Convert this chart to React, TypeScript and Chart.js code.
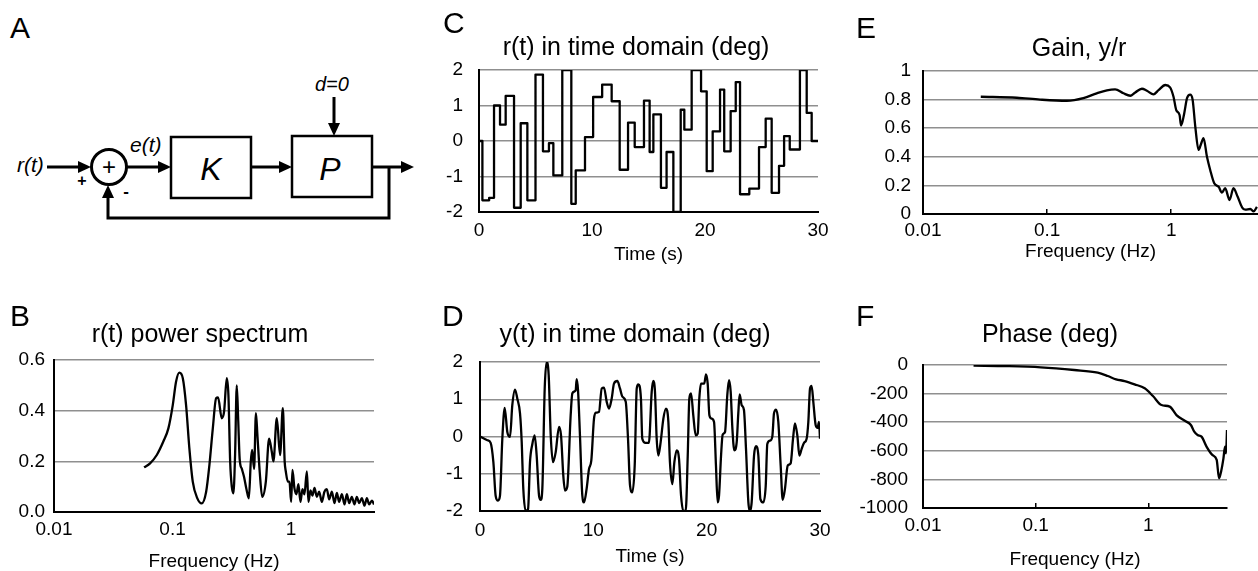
import React, { useEffect, useRef } from 'react';
import { Chart, registerables } from 'chart.js';

Chart.register(...registerables);

const FONT = '"Liberation Sans", Arial, Helvetica, sans-serif';
Chart.defaults.font.family = FONT;
Chart.defaults.color = '#000';

// ---------- Panel B: r(t) power spectrum ----------
const bFreq = [0.0575, 0.0646, 0.0736, 0.0836, 0.0922, 0.1004, 0.107, 0.114, 0.122, 0.13, 0.1386, 0.148, 0.1618, 0.176, 0.192, 0.2046, 0.2185, 0.233, 0.242, 0.26, 0.272, 0.2866, 0.296, 0.306, 0.316, 0.326, 0.3367, 0.348, 0.358, 0.368, 0.384, 0.4, 0.42, 0.44, 0.457, 0.469, 0.487, 0.505, 0.52, 0.545, 0.57, 0.612, 0.652, 0.687, 0.709, 0.757, 0.807, 0.851, 0.882, 0.902, 0.938, 0.968, 1.0, 1.026, 1.066, 1.108, 1.152, 1.198, 1.246, 1.295, 1.357, 1.4, 1.455, 1.513, 1.574, 1.648, 1.723, 1.816, 1.909, 2.0, 2.093, 2.206, 2.32, 2.43, 2.54, 2.68, 2.82, 2.95, 3.09, 3.25, 3.42, 3.58, 3.75, 3.95, 4.16, 4.35, 4.55, 4.8, 5.0];
const bPower = [0.176, 0.192, 0.225, 0.278, 0.33, 0.422, 0.514, 0.55, 0.528, 0.422, 0.251, 0.12, 0.054, 0.034, 0.08, 0.186, 0.33, 0.449, 0.452, 0.37, 0.396, 0.528, 0.46, 0.2, 0.1, 0.074, 0.225, 0.5, 0.36, 0.21, 0.17, 0.14, 0.09, 0.054, 0.2, 0.245, 0.17, 0.39, 0.3, 0.15, 0.06, 0.12, 0.29, 0.238, 0.2, 0.37, 0.225, 0.41, 0.2, 0.16, 0.12, 0.12, 0.04, 0.166, 0.094, 0.07, 0.11, 0.04, 0.09, 0.07, 0.16, 0.04, 0.085, 0.065, 0.095, 0.06, 0.08, 0.04, 0.08, 0.09, 0.05, 0.08, 0.035, 0.075, 0.04, 0.07, 0.03, 0.07, 0.035, 0.06, 0.03, 0.06, 0.035, 0.055, 0.025, 0.055, 0.03, 0.045, 0.03];

// ---------- Panel C: r(t) in time domain (step signal) ----------
const rTime = [0, 0.3, 0.9, 1.33, 1.86, 2.36, 3.1, 3.69, 4.28, 5.0, 5.66, 6.19, 6.58, 7.37, 8.17, 8.56, 9.38, 10.1, 10.9, 11.74, 12.45, 13.19, 13.78, 14.6, 15.1, 15.43, 16.1, 16.6, 17.2, 17.85, 18.17, 18.82, 19.65, 20.15, 20.68, 21.33, 21.7, 22.27, 22.72, 23.1, 23.92, 24.78, 25.37, 25.9, 26.55, 27.0, 27.5, 28.4, 29.0, 29.44, 30];
const rValue = [0, -1.67, -1.6, 1.0, 0.46, 1.27, -1.88, 0.5, -1.67, 1.87, -0.29, -0.06, -0.97, 2.0, -1.77, -0.83, 0.11, 1.24, 1.59, 1.12, -0.81, 0.52, -0.17, 1.14, -0.31, 0.75, -1.32, -0.31, -2.0, 0.88, 0.32, 2.0, 1.4, -0.85, 0.27, 1.45, -0.29, 0.84, 1.66, -1.5, -1.34, -0.17, 0.63, -1.46, -0.7, 0.14, -0.24, 2.0, 0.79, 0.0, 0.0];

// ---------- Panel D: y(t) in time domain ----------
const yTime = [0, 0.65, 0.94, 1.18, 1.38, 1.59, 1.76, 1.97, 2.18, 2.41, 2.65, 2.85, 3.09, 3.29, 3.53, 3.68, 3.82, 4.03, 4.24, 4.41, 4.62, 4.82, 5.0, 5.21, 5.36, 5.5, 5.71, 5.88, 6.06, 6.24, 6.44, 6.68, 6.97, 7.15, 7.35, 7.5, 7.7, 8.0, 8.15, 8.44, 8.53, 8.65, 8.82, 9.03, 9.18, 9.41, 9.62, 9.82, 10.06, 10.24, 10.5, 10.74, 10.94, 11.18, 11.38, 11.62, 11.82, 12.12, 12.35, 12.56, 12.86, 13.06, 13.24, 13.44, 13.65, 13.83, 13.97, 14.2, 14.32, 14.6, 14.9, 15.15, 15.29, 15.44, 15.59, 15.74, 15.94, 16.18, 16.41, 16.62, 16.76, 16.97, 17.15, 17.35, 17.56, 17.74, 17.94, 18.15, 18.33, 18.47, 18.62, 18.82, 19.03, 19.21, 19.35, 19.5, 19.79, 19.94, 20.09, 20.24, 20.44, 20.65, 20.82, 20.97, 21.09, 21.27, 21.41, 21.62, 21.82, 21.97, 22.12, 22.27, 22.44, 22.65, 22.79, 22.91, 23.09, 23.29, 23.47, 23.68, 23.82, 23.97, 24.18, 24.35, 24.56, 24.74, 25.0, 25.21, 25.35, 25.59, 25.79, 25.94, 26.12, 26.32, 26.53, 26.71, 26.91, 27.15, 27.41, 27.62, 27.79, 28.0, 28.18, 28.38, 28.59, 28.82, 28.97, 29.12, 29.26, 29.41, 29.62, 29.79, 29.91, 30.0];
const yValue = [0, -0.1, -0.17, -0.69, -1.59, -1.72, -1.6, -0.06, 0.77, 0.12, -0.01, 0.84, 1.26, 1.02, 0.62, -0.15, -1.4, -2.0, -1.95, -0.69, -0.2, 0.03, -0.51, -1.59, -1.7, -1.4, 1.29, 2.0, 1.65, 0.03, -0.69, -0.42, 0.26, 0.03, -1.05, -1.45, -1.35, 0.57, 1.16, 1.24, 1.54, 1.24, 0.03, -1.59, -1.77, -1.4, -0.87, -0.65, 0.48, 0.64, 0.66, 1.29, 1.31, 0.93, 0.75, 1.02, 1.42, 1.49, 1.29, 1.07, 0.93, -0.06, -1.32, -1.5, -0.78, 1.29, 1.4, 1.02, -0.06, -0.17, -0.17, 1.2, 1.49, 1.2, -0.06, -0.51, -0.15, 0.48, 0.75, 0.4, -0.69, -1.28, -0.69, -0.37, -0.6, -1.59, -2.0, -2.0, -0.51, 1.02, 1.16, 0.57, 0.03, 0.08, 1.02, 1.42, 1.42, 1.67, 1.42, 0.57, 0.48, 0.39, -0.78, -1.77, -1.59, -0.51, 0.05, 0.12, 1.11, 1.51, 1.2, 0.21, -0.37, -0.15, 0.62, 1.13, 0.84, 0.71, -0.33, -1.77, -2.0, -1.77, -0.51, -0.26, -0.51, -1.68, -1.77, -1.33, -0.2, -0.11, -0.01, 0.62, 0.72, 0.4, -0.78, -1.7, -1.4, -0.78, -0.72, -0.06, 0.35, 0.03, -0.51, -0.33, -0.17, -0.06, 0.39, 1.29, 1.36, 0.93, 0.3, 0.23, 0.39, -0.06];

// ---------- Panel E: Gain, y/r ----------
const gainFreq = [0.0292, 0.057, 0.0878, 0.144, 0.196, 0.251, 0.303, 0.353, 0.412, 0.467, 0.513, 0.58, 0.637, 0.72, 0.79, 0.895, 0.978, 1.043, 1.097, 1.167, 1.2, 1.27, 1.34, 1.42, 1.486, 1.563, 1.66, 1.738, 1.82, 1.94, 2.06, 2.22, 2.41, 2.56, 2.72, 2.95, 3.17, 3.43, 3.72, 3.95, 4.34, 4.61, 4.9];
const gainValue = [0.82, 0.813, 0.8, 0.792, 0.81, 0.844, 0.865, 0.872, 0.844, 0.827, 0.85, 0.876, 0.862, 0.837, 0.866, 0.902, 0.886, 0.82, 0.727, 0.692, 0.618, 0.7, 0.81, 0.835, 0.8, 0.61, 0.448, 0.49, 0.53, 0.4, 0.308, 0.215, 0.19, 0.15, 0.18, 0.098, 0.18, 0.12, 0.047, 0.03, 0.035, 0.018, 0.05];

// ---------- Panel F: Phase (deg) ----------
const phaseFreq = [0.0281, 0.0559, 0.111, 0.22, 0.356, 0.437, 0.518, 0.616, 0.756, 0.93, 1.1, 1.31, 1.55, 1.78, 2.11, 2.39, 2.56, 2.74, 2.97, 3.29, 3.7, 4.05, 4.25, 4.43, 4.65, 4.8, 4.9, 5.0];
const phaseValue = [-5, -8, -16, -35, -54, -77, -100, -112, -135, -163, -217, -280, -291, -350, -390, -420, -466, -490, -501, -571, -629, -664, -793, -746, -653, -571, -618, -455];

// ---------- Axis ticks ----------
const logTicks = [0.01, 0.1, 1];
const timeTicks = [0, 10, 20, 30];

type Panel = {
  left: number; top: number; width: number; height: number;
  padT: number; padR: number; yW: number; xH: number;
  xPad: number; yPad: number;
  title: string; titleX: number; titleY: number; xTitle: string;
  log: boolean; xMin: number; xMax: number;
  yMin: number; yMax: number; yStep: number;
  yFmt: (v: number) => string;
  xs: number[]; ys: number[];
  stepped?: boolean; innerTicks?: boolean;
};

const panels: Panel[] = [
  {
    left: 0, top: 330, width: 398, height: 243, padT: 30, padR: 24, yW: 54, xH: 61,
    xPad: 6, yPad: 9, title: 'r(t) power spectrum', titleX: 200, titleY: 333, xTitle: 'Frequency (Hz)',
    log: true, xMin: 0.01, xMax: 5, yMin: 0, yMax: 0.6, yStep: 0.2,
    yFmt: (v) => v.toFixed(1), xs: bFreq, ys: bPower,
  },
  {
    left: 429, top: 40, width: 413, height: 226, padT: 30, padR: 24, yW: 50, xH: 54,
    xPad: 7, yPad: 16, title: 'r(t) in time domain (deg)', titleX: 636, titleY: 46, xTitle: 'Time (s)',
    log: false, xMin: 0, xMax: 30, yMin: -2, yMax: 2, yStep: 1,
    yFmt: (v) => String(Math.round(v)), xs: rTime, ys: rValue, stepped: true,
  },
  {
    left: 430, top: 332, width: 414, height: 236, padT: 30, padR: 24, yW: 50, xH: 57,
    xPad: 8, yPad: 17, title: 'y(t) in time domain (deg)', titleX: 635, titleY: 333, xTitle: 'Time (s)',
    log: false, xMin: 0, xMax: 30, yMin: -2, yMax: 2, yStep: 1,
    yFmt: (v) => String(Math.round(v)), xs: yTime, ys: yValue,
  },
  {
    left: 863, top: 41, width: 419, height: 222, padT: 30, padR: 24, yW: 60, xH: 49,
    xPad: 10, yPad: 12, title: 'Gain, y/r', titleX: 1079, titleY: 47, xTitle: 'Frequency (Hz)',
    log: true, xMin: 0.01, xMax: 5, yMin: 0, yMax: 1, yStep: 0.2,
    yFmt: (v) => String(Math.round(v * 10) / 10), xs: gainFreq, ys: gainValue, innerTicks: true,
  },
  {
    left: 853, top: 335, width: 398, height: 236, padT: 30, padR: 24, yW: 70, xH: 63,
    xPad: 11, yPad: 15, title: 'Phase (deg)', titleX: 1050, titleY: 333, xTitle: 'Frequency (Hz)',
    log: true, xMin: 0.01, xMax: 5, yMin: -1000, yMax: 0, yStep: 200,
    yFmt: (v) => String(Math.round(v)), xs: phaseFreq, ys: phaseValue, innerTicks: true,
  },
];

function makeConfig(p: Panel): any {
  const tickFont = { family: FONT, size: 19 };
  return {
    type: 'line',
    data: {
      datasets: [
        {
          data: p.xs.map((x, i) => ({ x, y: p.ys[i] })),
          borderColor: '#000',
          borderWidth: 2.3,
          pointRadius: 0,
          fill: false,
          stepped: p.stepped ? 'before' : false,
          cubicInterpolationMode: p.stepped ? 'default' : 'monotone',
          borderJoinStyle: 'round',
        },
      ],
    },
    options: {
      responsive: false,
      animation: false,
      events: [],
      layout: { padding: { left: 0, right: p.padR, top: p.padT, bottom: 0 } },
      plugins: {
        legend: { display: false },
        tooltip: { enabled: false },
        title: { display: false },
      },
      scales: {
        x: {
          type: p.log ? 'logarithmic' : 'linear',
          min: p.xMin,
          max: p.xMax,
          afterBuildTicks: (s: any) => {
            s.ticks = (p.log ? logTicks : timeTicks).map((v) => ({ value: v }));
          },
          afterFit: (s: any) => {
            s.height = p.xH;
          },
          grid: p.innerTicks
            ? { display: true, drawOnChartArea: false, drawTicks: true, tickLength: -5, color: '#000', lineWidth: 1.5 }
            : { display: false, drawTicks: false, tickLength: 0 },
          border: { display: true, color: '#000', width: 2 },
          ticks: {
            color: '#000',
            font: tickFont,
            padding: p.xPad,
            maxRotation: 0,
            autoSkip: false,
            callback: (v: any) => String(v),
          },
          title: {
            display: true,
            text: p.xTitle,
            color: '#000',
            font: tickFont,
            padding: { top: 0, bottom: 0 },
          },
        },
        y: {
          type: 'linear',
          min: p.yMin,
          max: p.yMax,
          afterFit: (s: any) => {
            s.width = p.yW;
          },
          grid: {
            display: true,
            drawTicks: false,
            tickLength: 0,
            lineWidth: 1.5,
            color: (ctx: any) =>
              ctx.tick && Math.abs(ctx.tick.value - p.yMin) < 1e-9 ? 'rgba(0,0,0,0)' : '#8f8f8f',
          },
          border: { display: true, color: '#000', width: 2 },
          ticks: {
            color: '#000',
            font: tickFont,
            padding: p.yPad,
            stepSize: p.yStep,
            autoSkip: false,
            callback: (v: any) => p.yFmt(Number(v)),
          },
        },
      },
    },
  };
}

function ChartPanel({ p }: { p: Panel }) {
  const ref = useRef<HTMLCanvasElement | null>(null);
  useEffect(() => {
    if (!ref.current) return;
    const chart = new Chart(ref.current, makeConfig(p));
    return () => chart.destroy();
  }, []);
  return (
    <>
      <canvas
        ref={ref}
        width={p.width}
        height={p.height}
        style={{ position: 'absolute', left: p.left, top: p.top, width: p.width, height: p.height }}
      />
      <div
        style={{
          position: 'absolute',
          left: p.titleX - 200,
          top: p.titleY - 15,
          width: 400,
          textAlign: 'center',
          fontSize: 25,
          lineHeight: '30px',
          fontFamily: FONT,
          color: '#000',
          whiteSpace: 'nowrap',
        }}
      >
        {p.title}
      </div>
    </>
  );
}

function Diagram() {
  const sw = 3;
  const ital = { fontFamily: FONT, fontStyle: 'italic' as const };
  return (
    <svg width={430} height={260} style={{ position: 'absolute', left: 0, top: 0 }}>
      <text x={17} y={172} fontSize={21} {...ital}>r(t)</text>
      <line x1={47} y1={167} x2={80} y2={167} stroke="#000" strokeWidth={sw} />
      <polygon points="78,161 91,167 78,173" fill="#000" />
      <circle cx={109} cy={167} r={17.5} fill="#fff" stroke="#000" strokeWidth={sw} />
      <text x={109} y={175} fontSize={24} fontFamily={FONT} textAnchor="middle">+</text>
      <text x={82} y={186} fontSize={16} fontFamily={FONT} fontWeight="bold" textAnchor="middle">+</text>
      <text x={126} y={197} fontSize={17} fontFamily={FONT} fontWeight="bold" textAnchor="middle">-</text>
      <text x={130} y={152} fontSize={21} {...ital}>e(t)</text>
      <line x1={127} y1={167} x2={160} y2={167} stroke="#000" strokeWidth={sw} />
      <polygon points="158,161 171,167 158,173" fill="#000" />
      <rect x={171} y={137} width={80} height={61} fill="#fff" stroke="#000" strokeWidth={2.5} />
      <text x={211} y={180} fontSize={32} textAnchor="middle" {...ital}>K</text>
      <line x1={251} y1={167} x2={281} y2={167} stroke="#000" strokeWidth={sw} />
      <polygon points="279,161 292,167 279,173" fill="#000" />
      <rect x={292} y={136} width={80} height={61} fill="#fff" stroke="#000" strokeWidth={2.5} />
      <text x={330} y={180} fontSize={32} textAnchor="middle" {...ital}>P</text>
      <text x={315} y={91} fontSize={20} {...ital}>d=0</text>
      <line x1={334} y1={97} x2={334} y2={125} stroke="#000" strokeWidth={sw} />
      <polygon points="328,123 334,136 340,123" fill="#000" />
      <line x1={372} y1={167} x2={402} y2={167} stroke="#000" strokeWidth={sw} />
      <polygon points="401,161 414,167 401,173" fill="#000" />
      <polyline points="389,167 389,218 108,218 108,197" fill="none" stroke="#000" strokeWidth={sw} />
      <polygon points="102,198 108,185 114,198" fill="#000" />
    </svg>
  );
}

const letters = [
  { t: 'A', left: 10, top: 13 },
  { t: 'B', left: 10, top: 301 },
  { t: 'C', left: 443, top: 8 },
  { t: 'D', left: 442, top: 301 },
  { t: 'E', left: 856, top: 13 },
  { t: 'F', left: 856, top: 301 },
];

export default function App() {
  return (
    <div
      style={{
        position: 'fixed',
        left: 0,
        top: 0,
        width: 1258,
        height: 571,
        overflow: 'hidden',
        background: '#fff',
        fontFamily: FONT,
      }}
    >
      <Diagram />
      {panels.map((p, i) => (
        <ChartPanel key={i} p={p} />
      ))}
      {letters.map((l) => (
        <div
          key={l.t}
          style={{
            position: 'absolute',
            left: l.left,
            top: l.top,
            fontSize: 30,
            lineHeight: '30px',
            fontFamily: FONT,
            color: '#000',
          }}
        >
          {l.t}
        </div>
      ))}
    </div>
  );
}
